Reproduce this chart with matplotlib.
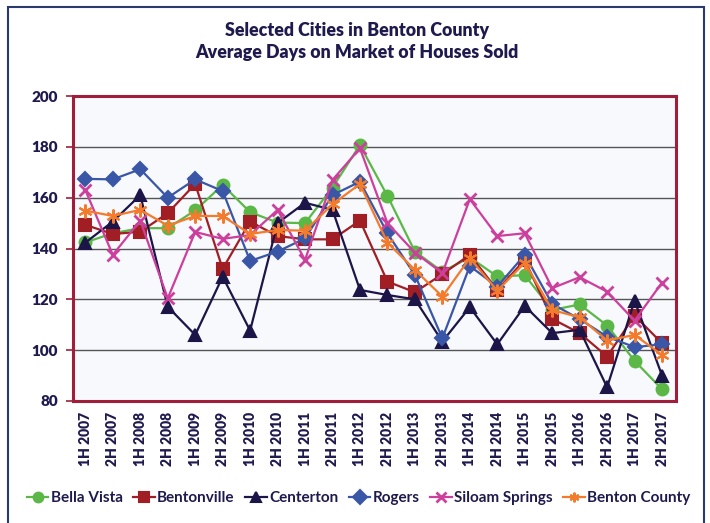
import matplotlib.pyplot as plt
from matplotlib.patches import Rectangle

periods = ["1H 2007", "2H 2007", "1H 2008", "2H 2008", "1H 2009", "2H 2009",
           "1H 2010", "2H 2010", "1H 2011", "2H 2011", "1H 2012", "2H 2012",
           "1H 2013", "2H 2013", "1H 2014", "2H 2014", "1H 2015", "2H 2015",
           "1H 2016", "2H 2016", "1H 2017", "2H 2017"]

bella_vista = [142.4, 146, 148, 148, 155, 165, 154.3, 150.2, 150, 164, 180.7, 160.7,
               138.8, 130.9, 136.5, 129, 129.5, 115.8, 118, 109.7, 95.8, 84.6]
bentonville = [149.3, 145.7, 146.6, 153.9, 165.4, 132, 150.6, 144.9, 143.6, 143.6, 151, 127,
               122.8, 129.9, 137.5, 123.7, 135.5, 112.3, 106.7, 97.5, 113.6, 102.7]
centerton = [142.3, 150.6, 161, 117.1, 106, 128.9, 107.7, 150, 158, 155.2, 123.7, 121.7,
             120, 103.4, 116.9, 102.3, 117.4, 106.7, 108, 85.4, 119.5, 90]
rogers = [167.4, 167.2, 171.2, 160, 167.2, 162.6, 135.1, 138.8, 144, 161, 166.3, 146,
          129.6, 104.7, 133.1, 125, 137.5, 118.2, 112.2, 105.3, 101.2, 102.3]
siloam_springs = [163, 137.5, 151, 120.4, 146.5, 143.8, 145.3, 155.2, 135.5, 167, 179.4, 150,
                  138.4, 130.3, 159.4, 144.9, 146, 124.4, 128.7, 123, 111.6, 126.6]
benton_county = [154.9, 152.8, 155.2, 149, 152.8, 152.8, 145.7, 147.3, 147, 157.4, 165.4, 142.3,
                 131.6, 121.1, 136.2, 123.4, 134.4, 115.8, 112.9, 103.8, 106, 98.1]

series = [
    ("Bella Vista", bella_vista, "#5BB847", "o", 8.5, 1.6),
    ("Bentonville", bentonville, "#A01E24", "s", 8.5, 1.6),
    ("Centerton", centerton, "#1B1548", "^", 8.5, 1.6),
    ("Rogers", rogers, "#3A56A6", "D", 7, 1.6),
    ("Siloam Springs", siloam_springs, "#CC3F9C", "x", 9, 1.6),
    ("Benton County", benton_county, "#F47A2C", (6, 2, 0), 10, 1.6),
]

navy = "#1F1A4D"
plt.rcParams['font.family'] = ['Lato', 'DejaVu Sans']

fig = plt.figure(figsize=(7.1, 5.23), dpi=100)
ax = fig.add_axes([0.1028, 0.2333, 0.849, 0.5831])
ax.set_facecolor("#F7F9FD")

x = list(range(len(periods)))
handles = []
for name, vals, color, marker, ms, lw in series:
    mew = 2 if marker == "x" else 1.5
    h, = ax.plot(x, vals, color=color, marker=marker, markersize=ms, linewidth=lw,
                 markeredgewidth=mew, label=name)
    handles.append(h)

ax.set_xlim(-0.45, 21.5)
ax.set_ylim(80, 200)
ax.set_yticks(range(80, 201, 20))
ax.yaxis.grid(True, color="#555555", linewidth=1.0)
ax.set_axisbelow(True)
ax.set_xticks(x)
ax.set_xticklabels(periods, rotation=90, fontsize=10, fontweight="heavy", color=navy)
ax.tick_params(axis="x", length=0, pad=8)
ax.tick_params(axis="y", length=5, width=1.2, color="#A01E3A", labelsize=11,
               labelcolor=navy, pad=6)
for lbl in ax.get_yticklabels():
    lbl.set_fontweight("heavy")
for sp in ax.spines.values():
    sp.set_color("#A01E3A")
    sp.set_linewidth(2.2)

fig.text(0.503, 0.942, "Selected Cities in Benton County", ha="center", va="center",
         fontsize=12.8, fontweight="heavy", color=navy)
fig.text(0.503, 0.900, "Average Days on Market of Houses Sold", ha="center", va="center",
         fontsize=12.8, fontweight="heavy", color=navy)

leg = fig.legend(handles=handles, loc="center", bbox_to_anchor=(0.505, 0.048), ncol=6,
                 frameon=False, handlelength=1.4, handletextpad=0.15, columnspacing=0.7,
                 prop={"weight": "bold", "size": 11})
for t in leg.get_texts():
    t.set_color(navy)
for lh in leg.get_lines():
    lh.set_markersize(7)

fig.patches.append(Rectangle((0.011, -0.05), 0.981, 1.037, transform=fig.transFigure,
                             fill=False, edgecolor="#2B3A6E", linewidth=1.5))

fig.savefig("out.png", dpi=100)
